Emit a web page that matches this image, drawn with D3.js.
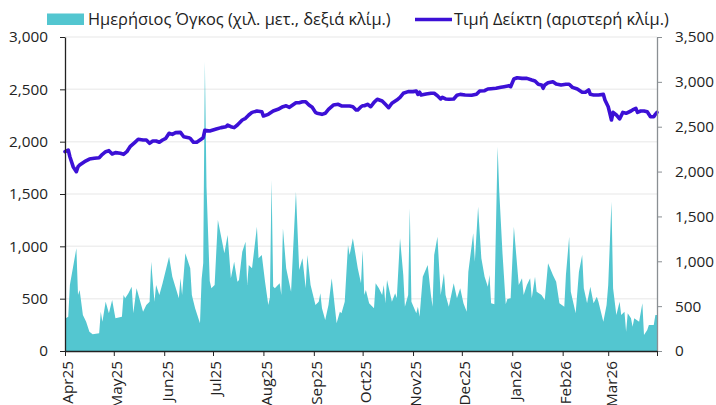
<!DOCTYPE html>
<html><head><meta charset="utf-8">
<script src="https://cdn.jsdelivr.net/npm/d3@7"></script>
<style>
html,body{margin:0;padding:0;background:#fff;}
svg{display:block;font-family:"Open Sans",sans-serif;}
</style></head>
<body><svg id="c" width="716" height="405"></svg>
<script>
const volumeDates = ["2025-04-01","2025-04-03","2025-04-04","2025-04-08","2025-04-09","2025-04-10","2025-04-12","2025-04-14","2025-04-16","2025-04-18","2025-04-22","2025-04-23","2025-04-24","2025-04-26","2025-04-28","2025-04-30","2025-05-02","2025-05-06","2025-05-07","2025-05-08","2025-05-10","2025-05-12","2025-05-13","2025-05-15","2025-05-19","2025-05-21","2025-05-23","2025-05-24","2025-05-26","2025-05-27","2025-05-29","2025-05-31","2025-06-02","2025-06-04","2025-06-06","2025-06-10","2025-06-11","2025-06-12","2025-06-14","2025-06-17","2025-06-18","2025-06-20","2025-06-23","2025-06-24","2025-06-25","2025-06-26","2025-06-27","2025-06-29","2025-06-30","2025-07-02","2025-07-04","2025-07-08","2025-07-10","2025-07-12","2025-07-14","2025-07-16","2025-07-17","2025-07-19","2025-07-21","2025-07-22","2025-07-23","2025-07-25","2025-07-28","2025-07-29","2025-07-31","2025-08-02","2025-08-04","2025-08-05","2025-08-06","2025-08-07","2025-08-08","2025-08-11","2025-08-12","2025-08-13","2025-08-15","2025-08-18","2025-08-21","2025-08-23","2025-08-25","2025-08-27","2025-08-28","2025-08-30","2025-09-01","2025-09-02","2025-09-04","2025-09-05","2025-09-06","2025-09-08","2025-09-10","2025-09-12","2025-09-14","2025-09-15","2025-09-17","2025-09-18","2025-09-20","2025-09-22","2025-09-23","2025-09-25","2025-09-28","2025-09-30","2025-10-01","2025-10-02","2025-10-03","2025-10-05","2025-10-08","2025-10-09","2025-10-11","2025-10-13","2025-10-14","2025-10-15","2025-10-16","2025-10-19","2025-10-21","2025-10-22","2025-10-24","2025-10-26","2025-10-27","2025-10-29","2025-10-30","2025-10-31","2025-11-03","2025-11-04","2025-11-05","2025-11-07","2025-11-10","2025-11-12","2025-11-13","2025-11-14","2025-11-16","2025-11-18","2025-11-20","2025-11-21","2025-11-23","2025-11-26","2025-11-28","2025-11-30","2025-12-02","2025-12-04","2025-12-05","2025-12-08","2025-12-09","2025-12-11","2025-12-13","2025-12-15","2025-12-17","2025-12-18","2025-12-19","2025-12-21","2025-12-23","2025-12-24","2025-12-26","2025-12-28","2025-12-29","2025-12-31","2026-01-02","2026-01-05","2026-01-07","2026-01-08","2026-01-10","2026-01-12","2026-01-13","2026-01-15","2026-01-16","2026-01-19","2026-01-21","2026-01-23","2026-01-26","2026-01-28","2026-01-30","2026-02-02","2026-02-03","2026-02-05","2026-02-06","2026-02-09","2026-02-11","2026-02-13","2026-02-14","2026-02-16","2026-02-18","2026-02-20","2026-02-22","2026-02-23","2026-02-26","2026-02-28","2026-03-01","2026-03-03","2026-03-04","2026-03-06","2026-03-08","2026-03-09","2026-03-11","2026-03-12","2026-03-13","2026-03-15","2026-03-16","2026-03-17","2026-03-20","2026-03-22","2026-03-23","2026-03-25","2026-03-26","2026-03-29","2026-03-30","2026-03-31"];
const volumeValues = [360,382,736,1145,624,680,401,327,215,186,197,438,327,549,420,568,364,382,624,587,643,717,420,699,438,513,549,995,549,736,624,754,903,1051,828,587,810,624,1089,922,624,476,309,800,980,3225,1830,780,699,736,1460,1089,1293,810,995,773,791,1107,1218,736,959,922,1385,1033,1070,773,513,600,1906,720,699,754,624,1367,922,661,1776,903,1033,699,1070,736,587,513,549,643,476,346,513,810,476,309,438,420,549,1181,1070,1256,922,754,1126,624,680,531,476,754,699,624,736,531,791,549,643,587,1256,847,494,624,1590,549,420,494,382,828,959,624,494,1070,1274,624,866,624,494,754,587,699,531,438,884,1312,995,1608,1033,828,717,847,531,520,2277,1780,1090,520,580,587,1385,736,810,624,736,810,587,828,661,624,568,977,847,773,531,494,847,1274,661,420,884,1070,699,531,717,531,605,549,327,513,736,1664,699,401,549,401,438,215,420,364,271,364,327,531,178,234,290,290,401,401];

const priceDates = ["2025-04-01","2025-04-03","2025-04-04","2025-04-06","2025-04-08","2025-04-09","2025-04-10","2025-04-13","2025-04-16","2025-04-19","2025-04-22","2025-04-24","2025-04-26","2025-04-28","2025-04-30","2025-05-02","2025-05-05","2025-05-07","2025-05-09","2025-05-11","2025-05-14","2025-05-16","2025-05-19","2025-05-21","2025-05-23","2025-05-25","2025-05-27","2025-05-29","2025-05-31","2025-06-02","2025-06-04","2025-06-06","2025-06-08","2025-06-11","2025-06-13","2025-06-16","2025-06-17","2025-06-19","2025-06-21","2025-06-23","2025-06-25","2025-06-26","2025-06-29","2025-07-03","2025-07-06","2025-07-09","2025-07-10","2025-07-12","2025-07-14","2025-07-16","2025-07-19","2025-07-21","2025-07-23","2025-07-25","2025-07-28","2025-07-31","2025-08-01","2025-08-04","2025-08-07","2025-08-10","2025-08-13","2025-08-15","2025-08-17","2025-08-19","2025-08-21","2025-08-23","2025-08-25","2025-08-27","2025-08-29","2025-08-31","2025-09-02","2025-09-03","2025-09-06","2025-09-08","2025-09-10","2025-09-13","2025-09-16","2025-09-18","2025-09-20","2025-09-23","2025-09-25","2025-09-27","2025-09-28","2025-09-30","2025-10-01","2025-10-02","2025-10-04","2025-10-06","2025-10-08","2025-10-10","2025-10-13","2025-10-15","2025-10-17","2025-10-19","2025-10-22","2025-10-24","2025-10-26","2025-10-29","2025-11-01","2025-11-03","2025-11-04","2025-11-05","2025-11-06","2025-11-09","2025-11-12","2025-11-14","2025-11-16","2025-11-18","2025-11-19","2025-11-21","2025-11-23","2025-11-26","2025-11-28","2025-11-30","2025-12-03","2025-12-07","2025-12-10","2025-12-12","2025-12-15","2025-12-17","2025-12-19","2025-12-22","2025-12-25","2025-12-27","2025-12-30","2025-12-31","2026-01-02","2026-01-04","2026-01-07","2026-01-10","2026-01-13","2026-01-15","2026-01-17","2026-01-19","2026-01-20","2026-01-21","2026-01-23","2026-01-26","2026-01-28","2026-01-31","2026-02-03","2026-02-05","2026-02-07","2026-02-10","2026-02-13","2026-02-15","2026-02-17","2026-02-18","2026-02-20","2026-02-23","2026-02-26","2026-02-27","2026-03-01","2026-03-02","2026-03-03","2026-03-04","2026-03-06","2026-03-08","2026-03-10","2026-03-12","2026-03-15","2026-03-16","2026-03-18","2026-03-19","2026-03-21","2026-03-23","2026-03-25","2026-03-27","2026-03-29","2026-03-30","2026-03-31"];
const priceValues = [1904,1920,1856,1761,1713,1761,1777,1809,1834,1841,1847,1879,1904,1914,1882,1895,1889,1879,1904,1952,1994,2023,2016,2016,1984,2006,2006,1994,2016,2032,2080,2070,2086,2089,2047,2038,2032,1994,1994,2016,2038,2109,2102,2121,2134,2143,2159,2143,2134,2159,2207,2223,2255,2280,2293,2286,2245,2261,2293,2309,2334,2343,2328,2350,2372,2372,2382,2382,2350,2328,2280,2271,2261,2271,2309,2350,2357,2341,2341,2341,2334,2303,2303,2334,2343,2343,2357,2334,2376,2405,2389,2357,2325,2367,2398,2424,2462,2478,2478,2484,2452,2472,2446,2455,2462,2462,2439,2408,2424,2408,2405,2408,2443,2452,2446,2443,2452,2484,2487,2503,2506,2510,2519,2525,2535,2525,2599,2611,2605,2605,2589,2580,2548,2541,2510,2541,2563,2573,2551,2541,2548,2548,2519,2503,2472,2472,2494,2452,2446,2446,2452,2398,2334,2271,2207,2280,2255,2217,2280,2271,2293,2303,2318,2280,2293,2293,2286,2238,2238,2261,2280];

const leftTicks = [0,500,1000,1500,2000,2500,3000];
const rightTicks = [0,500,1000,1500,2000,2500,3000,3500];
const monthTicks = ["2025-04-01","2025-05-01","2025-06-01","2025-07-01","2025-08-01","2025-09-01","2025-10-01","2025-11-01","2025-12-01","2026-01-01","2026-02-01","2026-03-01","2026-03-31"];
const monthLabels = ["Apr25","May25","Jun25","Jul25","Aug25","Sep25","Oct25","Nov25","Dec25","Jan26","Feb26","Mar26",""];
const legendLabels = ["Ημερήσιος Όγκος (χιλ. μετ., δεξιά κλίμ.)","Τιμή Δείκτη (αριστερή κλίμ.)"];

const parse = d3.timeParse("%Y-%m-%d");
const vol = volumeDates.map((d,i)=>({date:parse(d), v:volumeValues[i]}));
const price = priceDates.map((d,i)=>({date:parse(d), v:priceValues[i]}));
const ticks = monthTicks.map(parse);

const svg = d3.select("#c");
const X0=65, X1=657, YT=37, YB=351;
const x = d3.scaleTime().domain([parse("2025-04-01"), parse("2026-03-31")]).range([X0,X1]);
const yL = d3.scaleLinear().domain([0,3000]).range([YB,YT]);
const yR = d3.scaleLinear().domain([0,3500]).range([YB,YT]);

const tealC = "#53c6d0", lineC = "#3c10d6";
const FS = 15.3;

// gridlines
svg.append("g").selectAll("line").data(leftTicks.filter(d=>d>0)).join("line")
  .attr("x1",X0).attr("x2",X1).attr("y1",d=>yL(d)).attr("y2",d=>yL(d))
  .attr("stroke","#efefef").attr("stroke-width",1.5);

// area
svg.append("path").datum(vol)
  .attr("d", d3.area().x(d=>x(d.date)).y0(yR(0)).y1(d=>yR(d.v)))
  .attr("fill", tealC);

// line
svg.append("path").datum(price)
  .attr("d", d3.line().x(d=>x(d.date)).y(d=>yL(d.v)))
  .attr("fill","none").attr("stroke",lineC).attr("stroke-width",3.6)
  .attr("stroke-linejoin","round").attr("stroke-linecap","round");

// left axis
const gl = svg.append("g").attr("transform",`translate(${X0},0)`)
  .call(d3.axisLeft(yL).tickValues(leftTicks).tickFormat(d3.format(",")).tickSize(5).tickPadding(12).tickSizeOuter(0));
gl.select(".domain").attr("stroke","#222").attr("stroke-width",1.3);
gl.selectAll(".tick line").attr("stroke","#222");
gl.selectAll("text").attr("font-size",FS).attr("fill","#222").attr("font-family","Open Sans, sans-serif");

// right axis
const gr = svg.append("g").attr("transform",`translate(${X1},0)`)
  .call(d3.axisRight(yR).tickValues(rightTicks).tickFormat(d3.format(",")).tickSize(5).tickPadding(13).tickSizeOuter(0));
gr.select(".domain").attr("stroke","#8a8f93").attr("stroke-width",1.3);
gr.selectAll(".tick line").attr("stroke","#8a8f93");
gr.selectAll("text").attr("font-size",FS).attr("fill","#222").attr("font-family","Open Sans, sans-serif");

// bottom axis
const gb = svg.append("g").attr("transform",`translate(0,${YB})`)
  .call(d3.axisBottom(x).tickValues(ticks).tickFormat("").tickSize(5).tickSizeOuter(0));
gb.select(".domain").attr("stroke","#222").attr("stroke-width",1.6);
gb.selectAll(".tick line").attr("stroke","#222");
svg.append("g").selectAll("text").data(ticks).join("text")
  .attr("transform", d=>`translate(${x(d)},${YB+10}) rotate(-90)`)
  .attr("text-anchor","end").attr("dy","0.55em")
  .attr("font-size",FS).attr("fill","#222")
  .text((d,i)=>monthLabels[i]);

// legend
const lg = svg.append("g");
lg.append("rect").attr("x",47).attr("y",13.5).attr("width",37).attr("height",11.5).attr("fill",tealC);
lg.append("text").attr("x",88).attr("y",25).attr("font-size",16.4).attr("fill","#222").text(legendLabels[0]);
lg.append("line").attr("x1",415).attr("x2",452).attr("y1",19.5).attr("y2",19.5).attr("stroke",lineC).attr("stroke-width",3.6);
lg.append("text").attr("x",454).attr("y",25).attr("font-size",16.4).attr("fill","#222").text(legendLabels[1]);
</script></body></html>
